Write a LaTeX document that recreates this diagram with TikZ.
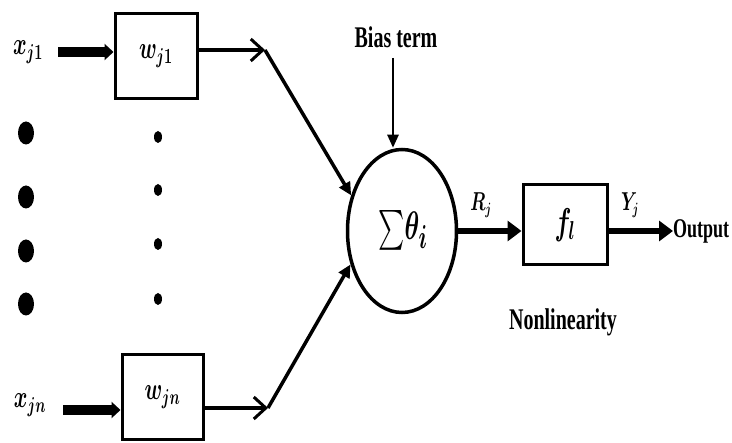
\documentclass[tikz,border=0pt]{standalone}
\usepackage{graphicx}
\usepackage{exscale}
\usepackage{fontspec}
\setmainfont{Liberation Serif}
\usetikzlibrary{arrows.meta,shapes.geometric}
\newcommand{\vst}[1]{\scalebox{1}[1.5]{#1}}
\begin{document}
\begin{tikzpicture}[x=1pt,y=-1pt,
  box/.style={draw,line width=3pt,minimum width=82pt,minimum height=85pt,inner sep=0pt},
  lbl/.style={inner sep=0pt,font=\bfseries\fontsize{20}{24}\selectfont},
  mlbl/.style={inner sep=0pt,font=\boldmath\fontsize{20}{24}\selectfont},
  bigdot/.style={ellipse,fill=black,minimum width=16pt,minimum height=23pt,inner sep=0pt},
  smalldot/.style={ellipse,fill=black,minimum width=8pt,minimum height=12pt,inner sep=0pt},
  inarrow/.style={line width=10pt,-{Triangle[length=9pt,width=16pt]}},
  warrow/.style={line width=3.5pt,-{Straight Barb[length=12pt,width=22pt,line width=3pt]}},
  sarrow/.style={line width=3.5pt,-{Triangle[length=13pt,width=12pt]}},
  rarrow/.style={line width=6pt,-{Triangle[length=14pt,width=20pt]}},
  barrow/.style={line width=2.5pt,-{Triangle[length=13pt,width=11pt]}}]
\useasboundingbox (0,0) rectangle (732,443);

% boxes and summing junction
\node[box] (b1) at (156,56) {};
\node[box,minimum width=81pt] (bn) at (162.5,397.5) {};
\node[draw,ellipse,line width=3.5pt,minimum width=109pt,minimum height=163pt,inner sep=0pt] (sum) at (402,231) {};
\node[box,minimum width=84pt,minimum height=80pt] (f) at (565,225) {};

% texts
\node[mlbl] at (b1) {\vst{$w_{j1}$}};
\node[mlbl] at (bn) {\vst{$w_{jn}$}};
\node[inner sep=0pt,font=\boldmath\fontsize{30}{34}\selectfont] at (403,230) {\scalebox{1}[1.6]{$\sum\!\theta_i$}};
\node[mlbl,font=\boldmath\fontsize{24}{28}\selectfont] at (f) {\vst{$f_l$}};
\node[mlbl] (x1) at (28,52) {\vst{$x_{j1}$}};
\node[mlbl] (xn) at (30,405) {\vst{$x_{jn}$}};
\node[lbl] (bias) at (396,37) {\vst{Bias term}};
\node[mlbl,font=\boldmath\fontsize{16}{20}\selectfont] (rj) at (481,205) {\vst{$R_j$}};
\node[mlbl,font=\boldmath\fontsize{16}{20}\selectfont] (yj) at (630,205) {\vst{$Y_j$}};
\node[lbl,font=\bfseries\fontsize{18}{22}\selectfont,anchor=west] (out) at (673,231) {\vst{Output}};
\node[lbl] (nonlin) at (563,322) {\vst{Nonlinearity}};

% dots
\node[bigdot] (d1) at (26,133) {};
\node[bigdot] (d2) at (26,197) {};
\node[bigdot] (d3) at (26,251) {};
\node[bigdot] (d4) at (26,304) {};
\node[smalldot] (e1) at (158,137) {};
\node[smalldot] (e2) at (158,190) {};
\node[smalldot] (e3) at (158,244) {};
\node[smalldot] (e4) at (158,299) {};

% connectors
\coordinate (s1) at (58,52);
\coordinate (sn) at (63,410);
\coordinate (c1) at (265,50);
\coordinate (cn) at (268,408);
\coordinate (bt) at (393,58);

\draw[inarrow] (s1) -- (b1.west |- s1);
\draw[inarrow] (sn) -- (bn.west |- sn);
\draw[warrow] (b1.east |- c1) -- (c1);
\draw[warrow] (bn.east |- cn) -- (cn);
\draw[sarrow] (c1) -- (sum.145);
\draw[sarrow] (cn) -- (sum.213);
\draw[barrow] (bt) -- (bt |- sum.north);
\draw[rarrow] (sum.east) -- (sum.east -| f.west);
\draw[rarrow] (f.east |- sum.east) -- (out.west);
\end{tikzpicture}
\end{document}
